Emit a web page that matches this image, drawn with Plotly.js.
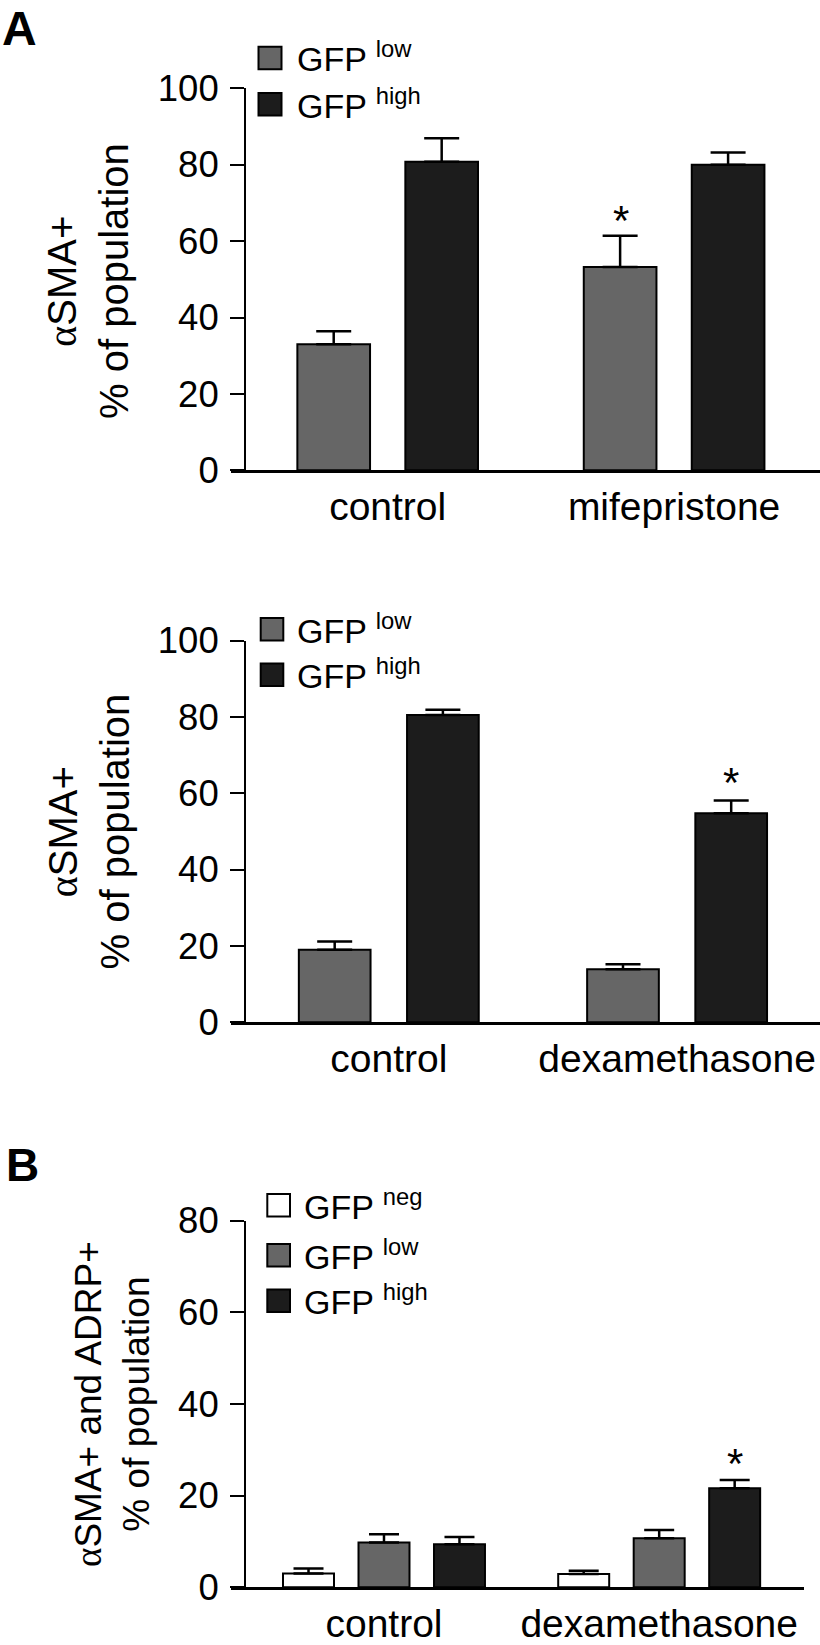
<!DOCTYPE html>
<html>
<head>
<meta charset="utf-8">
<script src="https://cdn.plot.ly/plotly-3.0.1.min.js"></script>
<style>html,body{margin:0;padding:0;background:#fff;}</style>
</head>
<body>
<div id="chart" style="width:820px;height:1645px;"></div>
<script>
// ---------- data ----------
const seriesNames = ['GFP <sup>neg</sup>', 'GFP <sup>low</sup>', 'GFP <sup>high</sup>'];

// Panel A (top): mifepristone
const groupsA1 = ['control', 'mifepristone'];
const lowA1 = [33.0, 53.2];
const lowA1Err = [3.4, 8.2];
const highA1 = [80.8, 80.0];
const highA1Err = [6.1, 3.2];
const lowA1Sig = ['', '*'];
const highA1Sig = ['', ''];

// Panel A (bottom): dexamethasone
const groupsA2 = ['control', 'dexamethasone'];
const lowA2 = [19.0, 13.9];
const lowA2Err = [2.2, 1.3];
const highA2 = [80.5, 54.8];
const highA2Err = [1.4, 3.3];
const lowA2Sig = ['', ''];
const highA2Sig = ['', '*'];

// Panel B
const groupsB = ['control', 'dexamethasone'];
const negB = [3.0, 2.9];
const negBErr = [1.1, 0.7];
const lowB = [9.8, 10.7];
const lowBErr = [1.8, 1.8];
const highB = [9.4, 21.6];
const highBErr = [1.6, 1.8];
const negBSig = ['', ''];
const lowBSig = ['', ''];
const highBSig = ['', '*'];

const yTicksA = [0, 20, 40, 60, 80, 100];
const yTicksB = [0, 20, 40, 60, 80];

const alpha = '<span style="font-family:Liberation Serif, DejaVu Serif, serif">α</span>';
const titleA = alpha + 'SMA+<br>% of population';
const titleB = alpha + 'SMA+ and ADRP+<br>% of population';

// ---------- styles ----------
const W = 820, H = 1645;
const FONT = 'Liberation Sans, Arial, Helvetica, sans-serif';
const colNeg = '#ffffff', colLow = '#666666', colHigh = '#1c1c1c';

function px(x) { return x / W; }
function py(y) { return 1 - y / H; }

function barTrace(name, x, y, err, color, xa, ya, offset, width, capw) {
  return {
    type: 'bar', name: name, x: x, y: y, xaxis: xa, yaxis: ya,
    offset: offset, width: width,
    marker: {color: color, line: {color: '#000', width: 2}},
    error_y: {type: 'data', symmetric: false, array: err,
              arrayminus: err.map(function(){ return 0; }),
              color: '#000', thickness: 2.5, width: capw},
    showlegend: false, hoverinfo: 'skip'
  };
}

const traces = [
  barTrace(seriesNames[1], groupsA1, lowA1, lowA1Err, colLow, 'x', 'y', -0.3154, 0.2538, 17.5),
  barTrace(seriesNames[2], groupsA1, highA1, highA1Err, colHigh, 'x', 'y', 0.0616, 0.2538, 17.5),
  barTrace(seriesNames[1], groupsA2, lowA2, lowA2Err, colLow, 'x2', 'y2', -0.3120, 0.2487, 17.5),
  barTrace(seriesNames[2], groupsA2, highA2, highA2Err, colHigh, 'x2', 'y2', 0.0633, 0.2487, 17.5),
  barTrace(seriesNames[0], groupsB, negB, negBErr, colNeg, 'x3', 'y3', -0.3670, 0.1853, 15),
  barTrace(seriesNames[1], groupsB, lowB, lowBErr, colLow, 'x3', 'y3', -0.0927, 0.1853, 15),
  barTrace(seriesNames[2], groupsB, highB, highBErr, colHigh, 'x3', 'y3', 0.1816, 0.1853, 15)
];

function xAxis(domain, range, anchor, standoff) {
  return {
    type: 'category', domain: domain, range: range, anchor: anchor,
    showline: true, linecolor: '#000', linewidth: 2.5,
    ticks: '', showgrid: false, zeroline: false,
    tickfont: {family: FONT, size: 39, color: '#000'},
    ticklabelstandoff: standoff, fixedrange: true
  };
}
function yAxis(domain, range, ticks) {
  return {
    domain: domain, range: range, anchor: 'free', position: px(245),
    showline: true, linecolor: '#000', linewidth: 2,
    ticks: 'outside', ticklen: 14, tickwidth: 2, tickcolor: '#000',
    tickvals: ticks, ticktext: ticks.map(String),
    showgrid: false, zeroline: false,
    tickfont: {family: FONT, size: 36.5, color: '#000'},
    ticklabelstandoff: 4, fixedrange: true
  };
}

const annotations = [];
const shapes = [];

function sigAnns(cats, vals, errs, sigs, xa, ya, xshift, yshift) {
  cats.forEach(function(c, i) {
    if (sigs[i]) {
      annotations.push({
        xref: xa, yref: ya, x: c, y: vals[i] + errs[i], text: sigs[i],
        showarrow: false, xshift: xshift, yshift: yshift,
        xanchor: 'center', yanchor: 'middle',
        font: {family: FONT, size: 42, color: '#000'}
      });
    }
  });
}
sigAnns(groupsA1, lowA1, lowA1Err, lowA1Sig, 'x', 'y', -53.6, 15);
sigAnns(groupsA1, highA1, highA1Err, highA1Sig, 'x', 'y', 53.6, 15);
sigAnns(groupsA2, lowA2, lowA2Err, lowA2Sig, 'x2', 'y2', -54.1, 18);
sigAnns(groupsA2, highA2, highA2Err, highA2Sig, 'x2', 'y2', 54.1, 18);
sigAnns(groupsB, negB, negBErr, negBSig, 'x3', 'y3', -75.5, 17);
sigAnns(groupsB, lowB, lowBErr, lowBSig, 'x3', 'y3', 0, 17);
sigAnns(groupsB, highB, highBErr, highBSig, 'x3', 'y3', 75.5, 17);

function legend(x0, x1, centers, h, names, colors, textX) {
  centers.forEach(function(c, i) {
    shapes.push({type: 'rect', xref: 'paper', yref: 'paper',
      x0: px(x0), x1: px(x1), y0: py(c + h / 2), y1: py(c - h / 2),
      fillcolor: colors[i], line: {color: '#000', width: 2}});
    annotations.push({xref: 'paper', yref: 'paper', x: px(textX), y: py(c),
      xanchor: 'left', yanchor: 'middle', yshift: 1, showarrow: false,
      text: names[i], font: {family: FONT, size: 34, color: '#000'}});
  });
}
legend(258.5, 281.5, [58, 104.3], 22.5, [seriesNames[1], seriesNames[2]], [colLow, colHigh], 295);
legend(260.7, 283.3, [629.2, 674.7], 22.5, [seriesNames[1], seriesNames[2]], [colLow, colHigh], 295);
legend(267.3, 290, [1205.3, 1255.3, 1300.8], 22.5, seriesNames, [colNeg, colLow, colHigh], 302);

function yTitle(text, xc, yc, size) {
  annotations.push({xref: 'paper', yref: 'paper', x: px(xc), y: py(yc),
    xanchor: 'center', yanchor: 'middle', textangle: -90, showarrow: false,
    text: text, font: {family: FONT, size: size, color: '#000'}});
}
yTitle(titleA, 88, 281, 40);
yTitle(titleA, 88, 831.5, 40);
yTitle(titleB, 112, 1404, 37);

function panelLabel(text, xl, yt, size) {
  annotations.push({xref: 'paper', yref: 'paper', x: px(xl), y: py(yt),
    xanchor: 'left', yanchor: 'top', showarrow: false, text: text,
    font: {family: FONT, size: size, color: '#000', weight: 'bold'}});
}
panelLabel('A', 0, 0, 48);
panelLabel('B', 4, 1137, 46);

const layout = {
  width: W, height: H,
  margin: {l: 0, r: 0, t: 0, b: 0, pad: 0},
  paper_bgcolor: '#fff', plot_bgcolor: 'rgba(0,0,0,0)',
  font: {family: FONT, color: '#000'},
  barmode: 'overlay', showlegend: false,
  xaxis: xAxis([px(231), 1], [-0.5471, 1.5094], 'y', 0),
  yaxis: yAxis([py(470.3), py(88.3)], [0, 100], yTicksA),
  xaxis2: xAxis([px(231), 1], [-0.5473, 1.4957], 'y2', 0),
  yaxis2: yAxis([py(1022.3), py(640.7)], [0, 100], yTicksA),
  xaxis3: xAxis([px(231), px(804)], [-0.5560, 1.5262], 'y3', 0),
  yaxis3: yAxis([py(1587.3), py(1220.7)], [0, 80], yTicksB),
  annotations: annotations,
  shapes: shapes
};

Plotly.newPlot('chart', traces, layout, {displayModeBar: false, staticPlot: true});
</script>
</body>
</html>
